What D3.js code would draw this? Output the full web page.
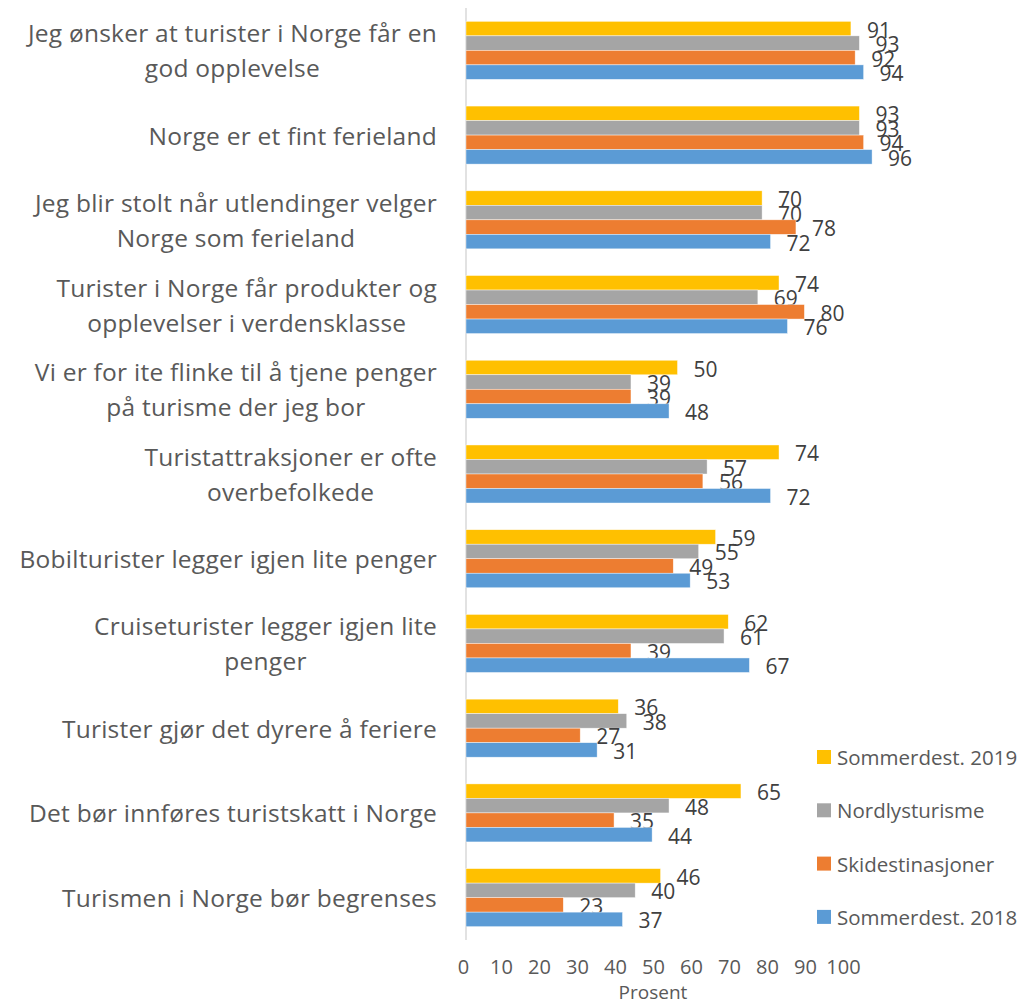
<!DOCTYPE html>
<html><head><meta charset="utf-8">
<script src="https://cdn.jsdelivr.net/npm/d3@7"></script>
<style>
body{margin:0;background:#fff;}
text{font-family:"Open Sans",sans-serif;}
</style></head>
<body><svg id="c" width="1023" height="1005"></svg>
<script>
const categories = [
 "Jeg ønsker at turister i Norge får en\ngod opplevelse",
 "Norge er et fint ferieland",
 "Jeg blir stolt når utlendinger velger\nNorge som ferieland",
 "Turister i Norge får produkter og\nopplevelser i verdensklasse",
 "Vi er for ite flinke til å tjene penger\npå turisme der jeg bor",
 "Turistattraksjoner er ofte\noverbefolkede",
 "Bobilturister legger igjen lite penger",
 "Cruiseturister legger igjen lite\npenger",
 "Turister gjør det dyrere å feriere",
 "Det bør innføres turistskatt i Norge",
 "Turismen i Norge bør begrenses"
];
const seriesNames = ["Sommerdest. 2019","Nordlysturisme","Skidestinasjoner","Sommerdest. 2018"];
const sommer2019 = [91,93,70,74,50,74,59,62,36,65,46];
const nordlys    = [93,93,70,69,39,57,55,61,38,48,40];
const ski        = [92,94,78,80,39,56,49,39,27,35,23];
const sommer2018 = [94,96,72,76,48,72,53,67,31,44,37];
const seriesValues = [sommer2019, nordlys, ski, sommer2018];
const colors = ["#FFC000","#A5A5A5","#ED7D31","#5B9BD5"];
const tickValues = [0,10,20,30,40,50,60,70,80,90,100];
const axisTitle = "Prosent";

const svg = d3.select("#c");
const x = d3.scaleLinear().domain([0,100]).range([466, 889]);
const xTicks = d3.scaleLinear().domain([0,100]).range([463, 843]);
const y = d3.scaleBand().domain(d3.range(categories.length)).range([8, 940]);
const y1 = d3.scaleBand().domain(d3.range(seriesNames.length)).range([0, y.bandwidth()]).paddingOuter(0.92);

// axis line
svg.append("line").attr("x1",466).attr("x2",466).attr("y1",8).attr("y2",940)
  .attr("stroke","#d9d9d9").attr("stroke-width",1.5);

const g = svg.append("g");
categories.forEach((c,i)=>{
  seriesValues.forEach((vals,s)=>{
    const v = vals[i];
    const yy = y(i)+y1(s);
    g.append("rect").attr("x",x(0)).attr("y",yy).attr("width",x(v)-x(0)).attr("height",y1.bandwidth())
      .attr("fill",colors[s]).attr("stroke","#fff").attr("stroke-width",0.6).attr("stroke-opacity",0.7);
    g.append("text").attr("x",x(v)+16).attr("y",yy+y1.bandwidth()/2+1)
      .attr("dominant-baseline","central").attr("font-size",21).attr("fill","#404040").text(v);
  });
});

// category labels
categories.forEach((c,i)=>{
  const lines = c.split("\n");
  const cy = y(i)+y.bandwidth()/2;
  const lh = 35;
  const t = svg.append("g");
  const texts = lines.map((ln,k)=>t.append("text")
     .attr("y", cy + (k-(lines.length-1)/2)*lh)
     .attr("dominant-baseline","central").attr("font-size",24.5).attr("letter-spacing",0.25)
     .attr("fill","#595959").text(ln));
  const W = d3.max(texts, tx=>tx.node().getComputedTextLength());
  texts.forEach(tx=>tx.attr("text-anchor","middle").attr("x", 437 - W/2));
});

// x axis tick labels
const ax = svg.append("g").attr("transform","translate(0,960)")
  .call(d3.axisBottom(xTicks).tickValues(tickValues).tickSize(0).tickPadding(0));
ax.select(".domain").remove();
ax.selectAll("text").attr("font-size",20).attr("fill","#595959").attr("font-family","Open Sans").attr("dy","0.7em");
svg.append("text").attr("x",653).attr("y",992).attr("text-anchor","middle").attr("dominant-baseline","central")
  .attr("font-size",19).attr("fill","#595959").text(axisTitle);

// legend
seriesNames.forEach((n,s)=>{
  const ly = 757 + s*53.3;
  svg.append("rect").attr("x",817).attr("y",ly-7).attr("width",14).attr("height",14).attr("fill",colors[s]);
  svg.append("text").attr("x",837).attr("y",ly).attr("dominant-baseline","central")
    .attr("font-size",20.5).attr("fill","#595959").text(n);
});
</script></body></html>
